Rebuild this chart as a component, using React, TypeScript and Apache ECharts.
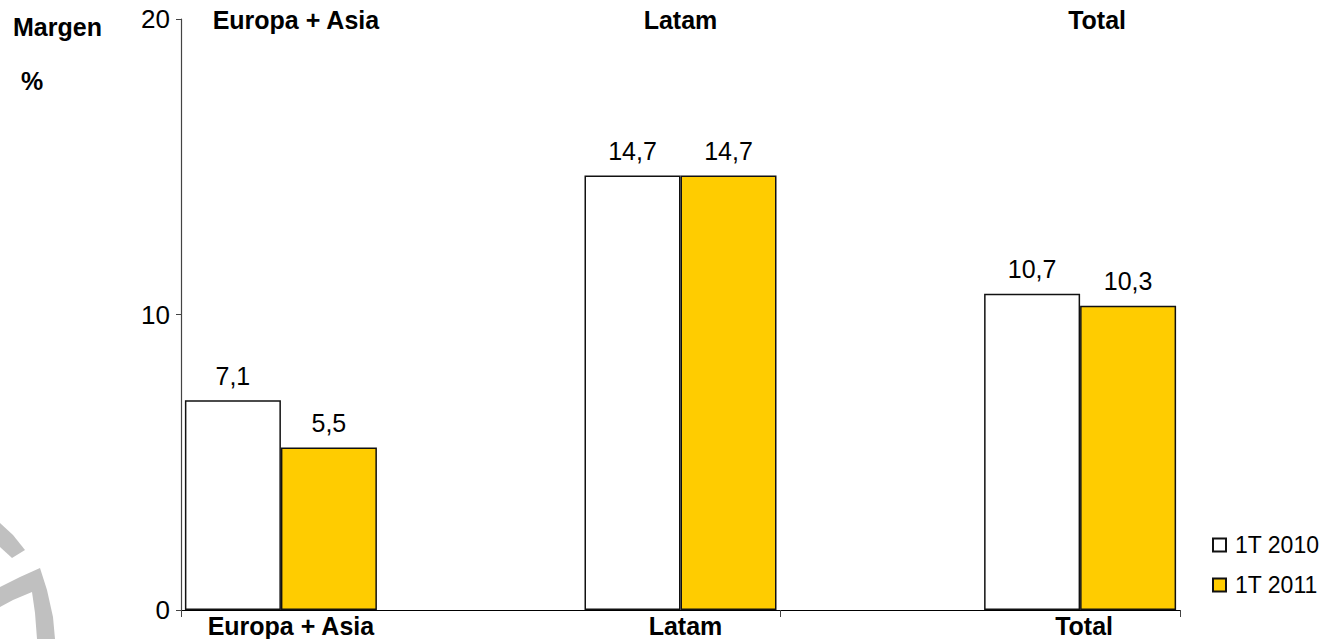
import React, { useEffect, useRef } from "react";
import * as echarts from "echarts";

const categories = ["Europa + Asia", "Latam", "Total"];
const series2010 = [7.1, 14.7, 10.7];
const series2011 = [5.5, 14.7, 10.3];
const seriesNames = ["1T 2010", "1T 2011"];
const yMin = 0;
const yMax = 20;
const yInterval = 10;

const FONT = "'Liberation Sans', Arial, sans-serif";

function spaced<T>(arr: T[], blank: T): T[] {
  const out: T[] = [];
  arr.forEach((v, i) => {
    out.push(v);
    if (i < arr.length - 1) out.push(blank);
  });
  return out;
}

export default function App() {
  const ref = useRef<HTMLDivElement>(null);
  useEffect(() => {
    if (!ref.current) return;
    const chart = echarts.init(ref.current, null, { renderer: "svg" });
    const axisCats = spaced(categories, "");
    const d2010 = spaced<any>(series2010, "-");
    const d2011 = spaced<any>(series2011, "-");
    const fmt = (p: any) => String(p.value).replace(".", ",");
    const grey = "#c0c0c0";
    const catStyle = { fontSize: 25, fontWeight: "bold", color: "#000", fontFamily: FONT };
    const mkRich = (shifts: number[]) => {
      const rich: any = {};
      shifts.forEach((s, i) => {
        rich["c" + i] = { ...catStyle, padding: [0, 0, 0, s * 2] };
      });
      return rich;
    };
    const catIndex = (v: string) => categories.indexOf(v);
    const fmtCat = (v: string) => {
      const i = catIndex(v);
      return i < 0 ? "" : "{c" + i + "|" + v + "}";
    };
    const barLabel = {
      show: true,
      position: "top",
      distance: 12,
      fontSize: 25,
      color: "#000",
      fontFamily: FONT,
      formatter: fmt,
    };
    chart.setOption({
      animation: false,
      textStyle: { fontFamily: FONT, color: "#000" },
      grid: { left: 181, right: 145, top: 19, bottom: 29 },
      legend: {
        orient: "vertical",
        left: 1212,
        top: 532,
        padding: 0,
        itemWidth: 13,
        itemHeight: 13,
        itemGap: 14,
        icon: "rect",
        data: seriesNames,
        textStyle: {
          fontSize: 23,
          color: "#000",
          fontFamily: FONT,
          lineHeight: 26,
          padding: [0, 0, 0, 4],
        },
      },
      xAxis: [
        {
          type: "category",
          data: axisCats,
          boundaryGap: true,
          axisLine: { show: true, lineStyle: { color: "#000", width: 1.2 } },
          axisTick: {
            show: true,
            length: 7,
            interval: (i: number) => i === 0 || i === 3,
            lineStyle: { color: "#444" },
          },
          axisLabel: {
            interval: 0,
            margin: 3,
            ...catStyle,
            formatter: fmtCat,
            rich: mkRich([10, 5, 4]),
          },
        },
        {
          type: "category",
          position: "top",
          data: axisCats,
          boundaryGap: true,
          axisLine: { show: false },
          axisTick: { show: false },
          axisLabel: {
            interval: 0,
            margin: -13,
            ...catStyle,
            formatter: fmtCat,
            rich: mkRich([15, 0, 17]),
          },
        },
      ],
      yAxis: {
        type: "value",
        min: yMin,
        max: yMax,
        interval: yInterval,
        splitLine: { show: false },
        axisLine: { show: true, lineStyle: { color: "#444", width: 1.2 } },
        axisTick: { show: true, length: 5, lineStyle: { color: "#444" } },
        axisLabel: { fontSize: 26, color: "#000", margin: 11, fontFamily: FONT },
      },
      series: [
        {
          name: seriesNames[0],
          type: "bar",
          data: d2010,
          barWidth: 96,
          barGap: "0%",
          itemStyle: { color: "#ffffff", borderColor: "#111", borderWidth: 1.5 },
          label: barLabel,
        },
        {
          name: seriesNames[1],
          type: "bar",
          data: d2011,
          barWidth: 96,
          barGap: "0%",
          itemStyle: { color: "#ffcc00", borderColor: "#111", borderWidth: 1.5 },
          label: barLabel,
        },
      ],
      graphic: [
        {
          type: "polygon",
          z: -1,
          shape: {
            points: [
              [0, 523],
              [13, 535],
              [25, 550],
              [12, 558],
              [0, 547],
            ],
          },
          style: { fill: grey },
        },
        {
          type: "polygon",
          z: -1,
          shape: {
            points: [
              [0, 587],
              [20, 577],
              [40, 568],
              [47, 590],
              [53, 617],
              [55, 639],
              [37, 639],
              [35, 613],
              [32, 592],
              [13, 600],
              [0, 607],
            ],
          },
          style: { fill: grey },
        },
        {
          type: "text",
          left: 13,
          top: 14,
          style: { text: "Margen", fontSize: 25, fontWeight: "bold", fill: "#000", fontFamily: FONT },
        },
        {
          type: "text",
          left: 21,
          top: 68,
          style: { text: "%", fontSize: 25, fontWeight: "bold", fill: "#000", fontFamily: FONT },
        },
      ],
    });
    return () => chart.dispose();
  }, []);
  return (
    <div
      ref={ref}
      style={{ position: "fixed", left: 0, top: 0, width: 1325, height: 639, background: "#fff" }}
    />
  );
}
